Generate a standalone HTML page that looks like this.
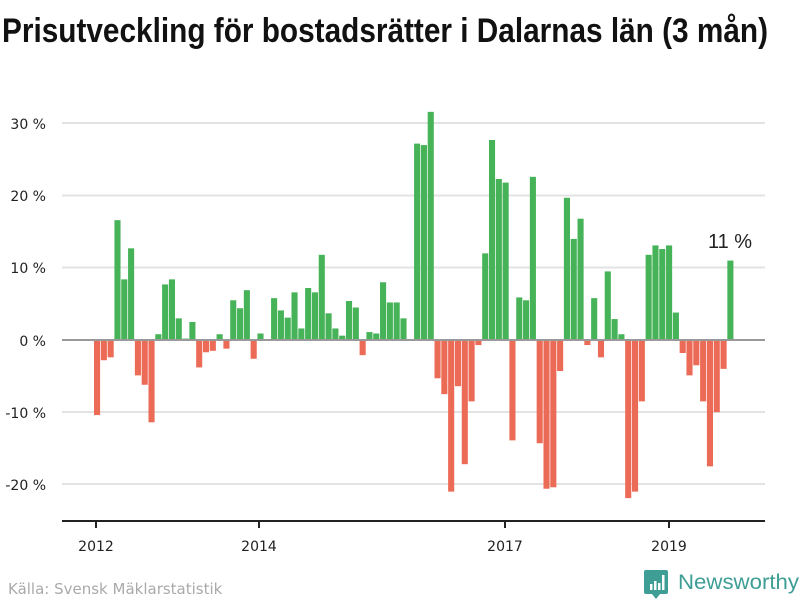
<!DOCTYPE html>
<html><head><meta charset="utf-8"><style>
html,body{margin:0;padding:0;background:#fff;width:800px;height:600px;overflow:hidden}
svg text{font-family:"DejaVu Sans","Liberation Sans",sans-serif}
</style></head><body>
<svg id="s" width="800" height="600" xmlns="http://www.w3.org/2000/svg">
<text x="2" y="42" font-size="34" font-weight="bold" fill="#111" textLength="766" lengthAdjust="spacingAndGlyphs" style="font-family:'Liberation Sans Narrow','Liberation Sans',sans-serif">Prisutveckling för bostadsrätter i Dalarnas län (3 mån)</text>
<g stroke="#e3e3e3" stroke-width="2">
<line x1="62" x2="765" y1="123" y2="123"/>
<line x1="62" x2="765" y1="195.5" y2="195.5"/>
<line x1="62" x2="765" y1="267.5" y2="267.5"/>
<line x1="62" x2="765" y1="412" y2="412"/>
<line x1="62" x2="765" y1="484" y2="484"/>
</g>
<g font-size="14" fill="#222" text-anchor="end">
<text x="46" y="129">30 %</text>
<text x="46" y="201">20 %</text>
<text x="46" y="273">10 %</text>
<text x="46" y="346">0 %</text>
<text x="46" y="418">-10 %</text>
<text x="46" y="490">-20 %</text>
</g>
<g id="bars"></g>
<line x1="62" x2="765" y1="340" y2="340" stroke="#999" stroke-width="2"/>
<line x1="62" x2="765" y1="521" y2="521" stroke="#222" stroke-width="2"/>
<g stroke="#222" stroke-width="2">
<line x1="96" x2="96" y1="521" y2="528"/>
<line x1="259" x2="259" y1="521" y2="528"/>
<line x1="505" x2="505" y1="521" y2="528"/>
<line x1="669" x2="669" y1="521" y2="528"/>
</g>
<g font-size="14" fill="#222" text-anchor="middle">
<text x="96" y="551">2012</text>
<text x="259" y="551">2014</text>
<text x="505" y="551">2017</text>
<text x="669" y="551">2019</text>
</g>
<text x="730" y="248" font-size="20" fill="#222" text-anchor="middle" style="font-family:'Liberation Sans Narrow','Liberation Sans',sans-serif">11 %</text>
<text x="8" y="594" font-size="15" fill="#aaa">Källa: Svensk Mäklarstatistik</text>
<g>
<path d="M646 570 h20 a2 2 0 0 1 2 2 v20 a2 2 0 0 1 -2 2 h-6 l-4 5 l-4 -5 h-6 a2 2 0 0 1 -2 -2 v-20 a2 2 0 0 1 2 -2z" fill="#3e9e95"/>
<rect x="650" y="584" width="2.5" height="6" fill="#fff"/>
<rect x="654" y="581" width="2.5" height="9" fill="#fff"/>
<rect x="658" y="583" width="2.5" height="7" fill="#fff"/>
<rect x="662" y="575" width="2.5" height="15" fill="#fff"/>
<text x="678" y="589" font-size="21" fill="#3e9e95" textLength="121" lengthAdjust="spacingAndGlyphs" style="font-family:'Liberation Sans',sans-serif">Newsworthy</text>
</g>
</svg>
<script>
var v=[-10.4,-2.8,-2.4,16.6,8.4,12.7,-4.9,-6.2,-11.4,0.8,7.7,8.4,3.0,0.2,2.5,-3.8,-1.7,-1.5,0.8,-1.2,5.5,4.4,6.9,-2.6,0.9,0,5.8,4.1,3.1,6.6,1.6,7.2,6.6,11.8,3.7,1.6,0.6,5.4,4.5,-2.1,1.1,0.9,8.0,5.2,5.2,3.0,0,27.2,27.0,31.6,-5.3,-7.5,-21.0,-6.4,-17.2,-8.5,-0.7,12.0,27.7,22.3,21.8,-13.9,5.9,5.5,22.6,-14.3,-20.6,-20.4,-4.3,19.7,14.0,16.8,-0.7,5.8,-2.4,9.5,2.9,0.8,-21.9,-21.0,-8.5,11.8,13.1,12.6,13.1,3.8,-1.8,-4.9,-3.5,-8.5,-17.5,-10.0,-4.0,11.0];
var g=document.getElementById('bars'),h='';
for(var i=0;i<v.length;i++){var x=94+i*6.81,val=v[i];if(!val)continue;var hh=Math.abs(val)*7.22;var y=val>0?340-hh:340;
h+='<rect x="'+x.toFixed(2)+'" y="'+y.toFixed(2)+'" width="6.1" height="'+hh.toFixed(2)+'" fill="'+(val>0?'#47b359':'#ec6b56')+'"/>';}
g.innerHTML=h;
</script>
</body></html>
